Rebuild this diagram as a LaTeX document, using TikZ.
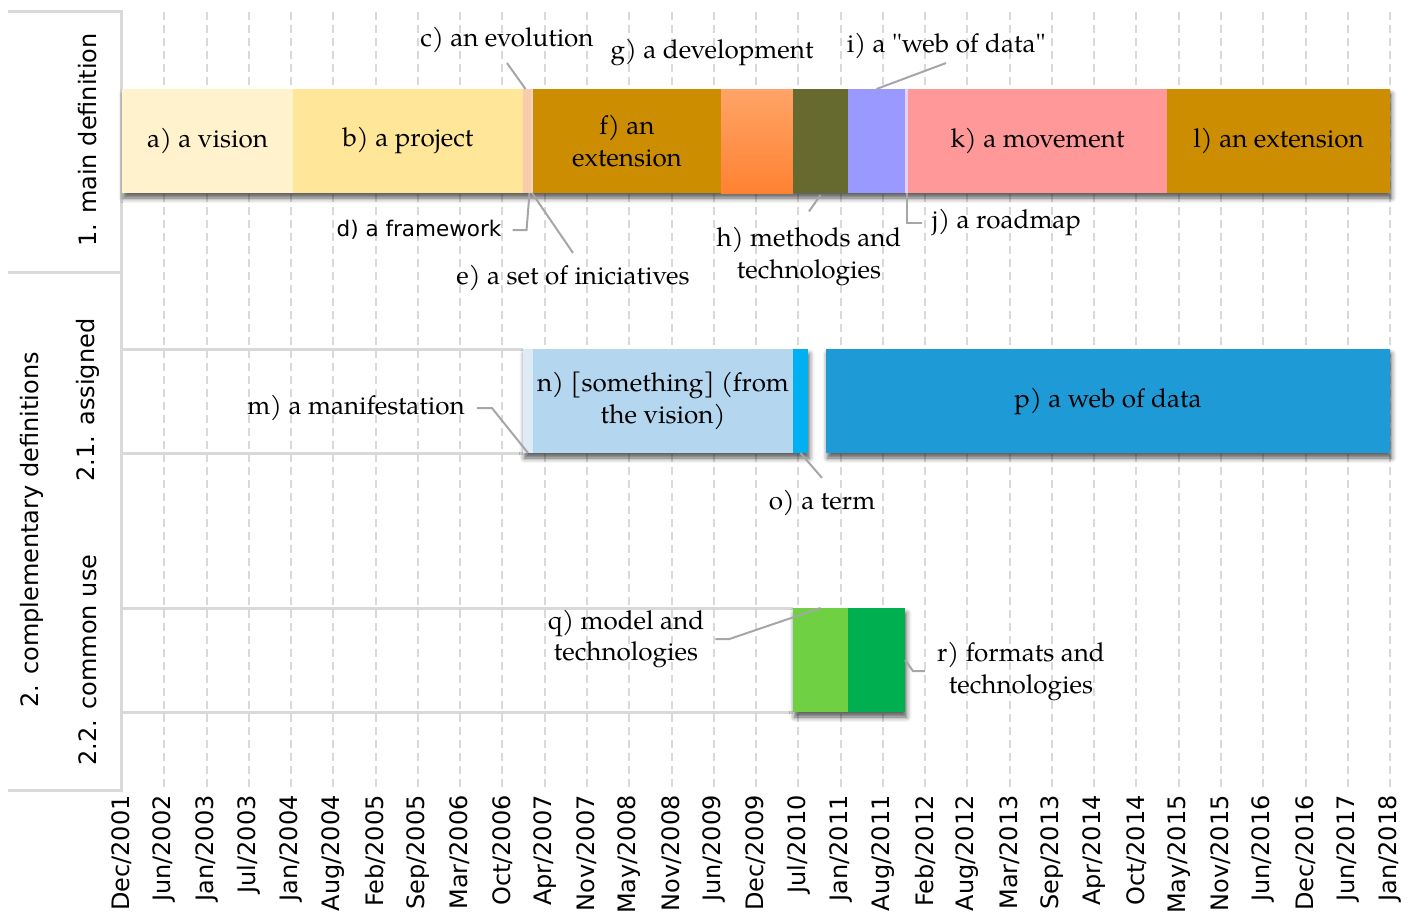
\documentclass[tikz,border=0pt]{standalone}
\usepackage{fontspec}
\setmainfont{texgyrepagella}[Extension=.otf, UprightFont=*-regular, Ligatures=TeXOff]
\newfontfamily\axisfont{DejaVu Sans}
\usetikzlibrary{shadows.blur}

\definecolor{cGrid}{RGB}{217,217,217}
\definecolor{cLead}{RGB}{166,166,166}
\definecolor{cA}{RGB}{255,242,204}
\definecolor{cB}{RGB}{255,230,153}
\definecolor{cC}{RGB}{248,203,173}
\definecolor{cE}{RGB}{250,212,188}
\definecolor{cF}{RGB}{204,142,0}
\definecolor{cGtop}{RGB}{255,163,102}
\definecolor{cGbot}{RGB}{255,130,50}
\definecolor{cH}{RGB}{102,106,46}
\definecolor{cI}{RGB}{153,153,255}
\definecolor{cJ}{RGB}{226,208,246}
\definecolor{cK}{RGB}{255,153,153}
\definecolor{cM}{RGB}{221,235,247}
\definecolor{cN}{RGB}{180,214,239}
\definecolor{cO}{RGB}{0,176,240}
\definecolor{cP}{RGB}{30,155,215}
\definecolor{cQ}{RGB}{112,208,68}
\definecolor{cR}{RGB}{0,176,80}

\begin{document}
\begin{tikzpicture}[x=1pt, y=-1pt]
    % Definizione stili
    \tikzstyle{barra}=[anchor=north west, inner sep=0pt, outer sep=0pt, minimum height=104pt, font=\fontsize{26}{32}\selectfont, align=center]
    \tikzstyle{ombra}=[fill=white, blur shadow={shadow xshift=1.5pt, shadow yshift=-5pt, shadow blur radius=5pt, shadow opacity=65}]
    \tikzstyle{etichetta}=[inner sep=0pt, font=\fontsize{26}{32}\selectfont, align=center]
    \tikzstyle{categoria}=[rotate=90, inner sep=0pt, font=\axisfont\fontsize{24}{28}\selectfont]
    \tikzstyle{mese}=[rotate=90, anchor=east, inner sep=0pt, font=\axisfont\fontsize{24}{28}\selectfont]
    \tikzstyle{griglia}=[draw=cGrid, line width=2pt, dash pattern=on 8pt off 5pt]
    \tikzstyle{asse}=[draw=cGrid, line width=3pt]
    \tikzstyle{guida}=[draw=cLead, line width=2pt]

    \useasboundingbox (0,0) rectangle (1413,915);

    % Griglia verticale e date
    \foreach \i in {1,...,30}
        \draw[griglia] ({122+42.27*\i},12) -- ++(0,778);
    \foreach \lab [count=\i from 0] in {Dec/2001,Jun/2002,Jan/2003,Jul/2003,Jan/2004,Aug/2004,Feb/2005,Sep/2005,Mar/2006,Oct/2006,Apr/2007,Nov/2007,May/2008,Nov/2008,Jun/2009,Dec/2009,Jul/2010,Jan/2011,Aug/2011,Feb/2012,Aug/2012,Mar/2013,Sep/2013,Apr/2014,Oct/2014,May/2015,Nov/2015,Jun/2016,Dec/2016,Jun/2017,Jan/2018}
        \node[mese] (data\i) at ({122+42.27*\i},795) {\lab};

    % Asse delle categorie
    \draw[asse] (8,12) -- (121,12) -- (121,790) -- (8,790);
    \draw[asse] (8,272) -- (121,272);
    \draw[asse] (121,349) -- (523,349);
    \draw[asse] (121,453) -- (523,453);
    \draw[asse] (121,608) -- (793,608);
    \draw[asse] (121,712) -- (793,712);

    \node[categoria] (cat1) at (88,140) {1. main definition};
    \node[categoria] (cat2) at (32,530) {2. complementary definitions};
    \node[categoria] (cat21) at (88,400) {2.1. assigned};
    \node[categoria] (cat22) at (88,660) {2.2. common use};

    % Ombre delle righe
    \path[ombra] (122,89) rectangle (1390,193);
    \path[ombra] (523,349) rectangle (808,453);
    \path[ombra] (826,349) rectangle (1390,453);
    \path[ombra] (793,608) rectangle (905,712);

    % Riga 1: definizione principale
    \node[barra, fill=cA, minimum width=171pt] (bar_a) at (122,89) {a) a vision};
    \node[barra, fill=cB, minimum width=230pt] (bar_b) at (293,89) {b) a project};
    \node[barra, fill=cC, minimum width=5pt] (bar_c) at (523,89) {};
    \node[barra, fill=cC, minimum width=3pt] (bar_d) at (528,89) {};
    \node[barra, fill=cE, minimum width=2pt] (bar_e) at (531,89) {};
    \node[barra, fill=cF, minimum width=188pt] (bar_f) at (533,89) {f) an\\extension};
    \node[barra, top color=cGtop, bottom color=cGbot, minimum width=72pt, minimum height=103pt] (bar_g) at (721,90) {};
    \node[barra, fill=cH, minimum width=55pt] (bar_h) at (793,89) {};
    \node[barra, fill=cI, minimum width=57pt] (bar_i) at (848,89) {};
    \node[barra, fill=cJ, minimum width=3pt] (bar_j) at (905,89) {};
    \node[barra, fill=cK, minimum width=259pt] (bar_k) at (908,89) {k) a movement};
    \node[barra, fill=cF, minimum width=223pt] (bar_l) at (1167,89) {l) an extension};

    % Riga 2.1: assegnate
    \node[barra, fill=cM, minimum width=10pt] (bar_m) at (523,349) {};
    \node[barra, fill=cN, minimum width=260pt] (bar_n) at (533,349) {n) [something] (from\\the vision)};
    \node[barra, fill=cO, minimum width=15pt] (bar_o) at (793,349) {};
    \node[barra, fill=cP, minimum width=564pt] (bar_p) at (826,349) {p) a web of data};

    % Riga 2.2: uso comune
    \node[barra, fill=cQ, minimum width=55pt] (bar_q) at (793,608) {};
    \node[barra, fill=cR, minimum width=57pt] (bar_r) at (848,608) {};

    % Etichette esterne
    \node[etichetta] (lab_c) at (507,40) {c) an evolution};
    \node[etichetta] (lab_g) at (712,53) {g) a development};
    \node[etichetta] (lab_i) at (946,46) {i) a "web of data"};
    \node[etichetta, font=\axisfont\fontsize{21.5}{26}\selectfont] (lab_d) at (419,230) {d) a framework};
    \node[etichetta] (lab_e) at (573,278) {e) a set of iniciatives};
    \node[etichetta] (lab_h) at (809,257) {h) methods and\\technologies};
    \node[etichetta, anchor=west] (lab_j) at (932,223) {j) a roadmap};
    \node[etichetta] (lab_m) at (356,408) {m) a manifestation};
    \node[etichetta] (lab_o) at (822,503) {o) a term};
    \node[etichetta] (lab_q) at (626,639) {q) model and\\technologies};
    \node[etichetta, anchor=west] (lab_r) at (937,671) {r) formats and\\technologies};

    % Linee guida
    \draw[guida] ([yshift=-10pt]lab_c.south) -- (bar_c.north);
    \draw[guida] ([yshift=-4pt]lab_i.south) -- (bar_i.north);
    \draw[guida] ([xshift=11pt]lab_d.east) -- ++(14,0) -- (bar_d.south);
    \draw[guida] (bar_e.south) -- ([yshift=12pt]lab_e.north);
    \draw[guida] ([yshift=-2pt]bar_h.south) -- ([yshift=16pt]lab_h.north);
    \draw[guida] (bar_j.south) |- ([xshift=-10pt]lab_j.west);
    \draw[guida] ([xshift=12pt]lab_m.east) -- ++(15,0) -- (bar_m.south);
    \draw[guida] (bar_o.south) -- ([yshift=12pt]lab_o.north);
    \draw[guida] ([xshift=11pt]lab_q.east) -- ++(14,0) -- (bar_q.north);
    \draw[guida] (bar_r.east) -- ++(8,11) -- ([xshift=-12pt]lab_r.west);
\end{tikzpicture}
\end{document}
